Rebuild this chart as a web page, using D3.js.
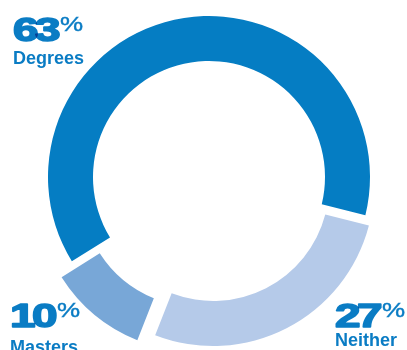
<!DOCTYPE html>
<html>
<head>
<meta charset="utf-8">
<script src="https://cdn.jsdelivr.net/npm/d3@7"></script>
<style>
    body { margin: 0; background: #fff; }
    svg { display: block; }
    .digit { font-family: "Liberation Sans", Arial, sans-serif; font-weight: bold; mix-blend-mode: multiply; }
    .pct { font-family: "Liberation Sans", Arial, sans-serif; }
    .name { font-family: "Liberation Sans", Arial, sans-serif; font-weight: bold; }
</style>
</head>
<body>
<div id="chart"></div>
<script>
'use strict';

/* global d3 */

// chart data, clockwise from the lower left
var categories = ["Degrees", "Neither", "Masters"];
var percents = [63, 27, 10];

var palette = ["#057dc3", "#b5cae9", "#78a7d7"];
var textColor = "#0a7cc4";

var width = 407, height = 350;
var cx = 209, cy = 177;
var innerRadius = 116, outerRadius = 161;

// how far each slice is pulled out from the centre
var explode = [0, 9, 18];
// label anchors: x, number baseline, name baseline
var labelPos = [[13, 41, 64], [335, 327, 346], [10, 327, 353]];

var svg = d3.select("#chart").append("svg")
    .attr("width", width)
    .attr("height", height);

var color = d3.scaleOrdinal().domain(categories).range(palette);

var start = -122 * Math.PI / 180;
var pie = d3.pie()
    .sort(null)
    .startAngle(start)
    .endAngle(start + 2 * Math.PI)
    .padAngle(0.012);

var arc = d3.arc().innerRadius(innerRadius).outerRadius(outerRadius);

var slices = pie(percents).map(function (p, i) {
    p.name = categories[i];
    p.offset = explode[i];
    return p;
});

var gRing = svg.append("g")
    .attr("transform", "translate(" + cx + "," + cy + ")");

gRing.selectAll("path.slice")
    .data(slices)
    .enter()
    .append("path")
    .attr("class", "slice")
    .attr("d", arc)
    .attr("transform", function (d) {
        var mid = (d.startAngle + d.endAngle) / 2;
        return "translate(" + (Math.sin(mid) * d.offset) + "," + (-Math.cos(mid) * d.offset) + ")";
    })
    .style("fill", function (d) {
        return color(d.name);
    });

var DIGIT_STEP = 22;

var gLabel = svg.selectAll("g.label")
    .data(categories)
    .enter()
    .append("g")
    .attr("class", "label");

gLabel.each(function (name, i) {
    var g = d3.select(this);
    var pos = labelPos[i];
    var digits = String(percents[i]).split("");

    // big heavy numbers, each digit drawn on its own so the overlaps darken
    g.selectAll("text.digit")
        .data(digits)
        .enter()
        .append("text")
        .attr("class", "digit")
        .attr("transform", function (d, j) {
            return "translate(" + (pos[0] + j * DIGIT_STEP) + "," + pos[1] + ") scale(1.35,1)";
        })
        .style("font-size", "34px")
        .style("fill", textColor)
        .style("stroke", textColor)
        .style("stroke-width", "1.6px")
        .style("stroke-linejoin", "round")
        .text(function (d) { return d; });

    g.append("text")
        .attr("class", "pct")
        .attr("transform", "translate(" + (pos[0] + digits.length * DIGIT_STEP + 3) + "," + (pos[1] - 10) + ") scale(1.3,1)")
        .style("font-size", "20px")
        .style("fill", textColor)
        .style("stroke", textColor)
        .style("stroke-width", "0.4px")
        .text("%");

    g.append("text")
        .attr("class", "name")
        .attr("x", pos[0])
        .attr("y", pos[2])
        .style("font-size", "18px")
        .style("fill", textColor)
        .text(name);
});
</script>
</body>
</html>
